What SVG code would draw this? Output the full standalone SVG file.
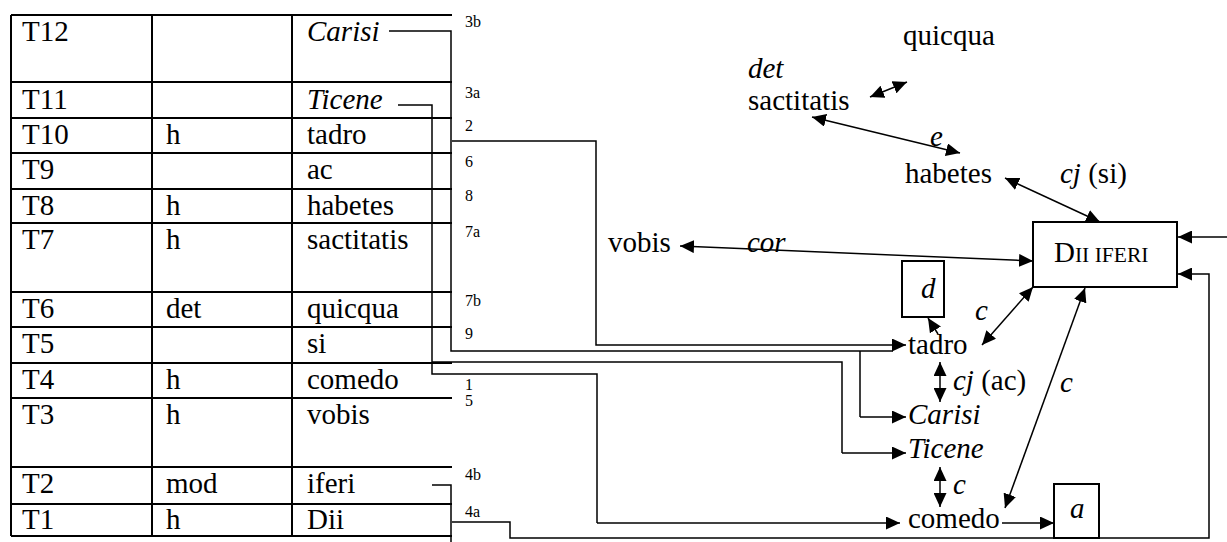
<svg xmlns="http://www.w3.org/2000/svg" width="1227" height="542" viewBox="0 0 1227 542" font-family="'Liberation Serif', 'Times New Roman', Times, 'DejaVu Serif', serif">
<defs>
<marker id="ah" markerUnits="userSpaceOnUse" markerWidth="15" markerHeight="13" refX="14" refY="6.5" orient="auto-start-reverse"><path d="M0,0 L14,6.5 L0,13 z" fill="#000"/></marker>
</defs>
<style>
text{font-family:'Liberation Serif', 'Times New Roman', Times, 'DejaVu Serif', serif;fill:#000}
.m{font-size:29px}
.i{font-size:29px;font-style:italic}
.s{font-size:16px}
.tb{stroke:#000;stroke-width:2;fill:none}
.c{stroke:#000;stroke-width:1.5;fill:none}
.a{stroke:#000;stroke-width:1.5;fill:none;marker-end:url(#ah)}
.d{stroke:#000;stroke-width:1.5;fill:none;marker-start:url(#ah);marker-end:url(#ah)}
.bx{stroke:#000;stroke-width:2;fill:#fff}
</style>
<rect width="1227" height="542" fill="#fff"/>
<g id="table">
<path class="tb" d="M11,15V536M152,15V536M292,15V536"/>
<path class="tb" d="M11,15H452M11,82H452M11,118H452M11,153H452M11,189H452M11,223H452M11,292H452M11,327H452M11,363H452M11,398H452M11,467H452M11,504H452M11,536H452"/>
<text class="m" x="22" y="41">T12</text>
<text class="m" x="22" y="109">T11</text>
<text class="m" x="22" y="144">T10</text>
<text class="m" x="22" y="179">T9</text>
<text class="m" x="22" y="215">T8</text>
<text class="m" x="22" y="249">T7</text>
<text class="m" x="22" y="318">T6</text>
<text class="m" x="22" y="353">T5</text>
<text class="m" x="22" y="389">T4</text>
<text class="m" x="22" y="424">T3</text>
<text class="m" x="22" y="493">T2</text>
<text class="m" x="22" y="529">T1</text>
<text class="m" x="166" y="144">h</text>
<text class="m" x="166" y="215">h</text>
<text class="m" x="166" y="249">h</text>
<text class="m" x="166" y="318">det</text>
<text class="m" x="166" y="389">h</text>
<text class="m" x="166" y="424">h</text>
<text class="m" x="166" y="493">mod</text>
<text class="m" x="166" y="529">h</text>
<text class="i" x="307" y="41">Carisi</text>
<text class="i" x="307" y="109">Ticene</text>
<text class="m" x="307" y="144">tadro</text>
<text class="m" x="307" y="179">ac</text>
<text class="m" x="307" y="215">habetes</text>
<text class="m" x="307" y="249">sactitatis</text>
<text class="m" x="307" y="318">quicqua</text>
<text class="m" x="307" y="353">si</text>
<text class="m" x="307" y="389">comedo</text>
<text class="m" x="307" y="424">vobis</text>
<text class="m" x="307" y="493">iferi</text>
<text class="m" x="307" y="529">Dii</text>
</g>
<g id="labels">
<text class="s" x="465" y="27">3b</text>
<text class="s" x="465" y="98">3a</text>
<text class="s" x="465" y="131">2</text>
<text class="s" x="465" y="167">6</text>
<text class="s" x="465" y="201">8</text>
<text class="s" x="465" y="237">7a</text>
<text class="s" x="465" y="306">7b</text>
<text class="s" x="465" y="339">9</text>
<text class="s" x="465" y="390">1</text>
<text class="s" x="465" y="406">5</text>
<text class="s" x="465" y="480">4b</text>
<text class="s" x="465" y="517">4a</text>
</g>
<g id="connectors">
<path class="c" d="M389,31H451V351H893M860,351V417"/>
<path class="a" d="M860,417H906"/>
<path class="a" d="M452,141H596V345H906"/>
<path class="c" d="M398,105H432V374H597V523"/>
<path class="c" d="M432,362H842V453"/>
<path class="a" d="M842,453H906"/>
<path class="a" d="M597,523H900"/>
<path class="c" d="M432,485H451V542"/>
<path class="a" d="M452,522H510V538H1209V274H1178"/>
<path class="a" d="M1227,237H1178"/>
<path class="d" d="M870,97L907,82"/>
<path class="d" d="M812,117L960,153"/>
<path class="d" d="M1005,178L1100,222"/>
<path class="d" d="M680,246L1033,261"/>
<path class="a" d="M938,334L928,318"/>
<path class="d" d="M982,345L1033,287"/>
<path class="d" d="M940,362V402"/>
<path class="d" d="M940,467V507"/>
<path class="a" d="M1002,523H1054"/>
<path class="d" d="M1005,508L1085,288"/>
</g>
<g id="n-quicqua"><text class="m" x="903" y="45">quicqua</text></g>
<g id="n-sactitatis"><text class="i" x="748" y="78">det</text><text class="m" x="748" y="110">sactitatis</text></g>
<g id="l-e"><text class="i" x="930" y="146">e</text></g>
<g id="n-habetes"><text class="m" x="905" y="183">habetes</text></g>
<g id="l-cjsi"><text class="m" x="1060" y="183"><tspan font-style="italic">cj</tspan> (si)</text></g>
<g id="n-dii"><rect class="bx" x="1033" y="222" width="144" height="65"/><text x="1054" y="262" font-size="29">D<tspan font-size="21.5">II IFERI</tspan></text></g>
<g id="n-vobis"><text class="m" x="608" y="252">vobis</text></g>
<g id="l-cor"><text class="i" x="747" y="252">cor</text></g>
<g id="n-d"><rect class="bx" x="902" y="261" width="42" height="56"/><text class="i" x="921" y="298">d</text></g>
<g id="n-tadro"><text class="m" x="908" y="354">tadro</text></g>
<g id="l-c1"><text class="i" x="975" y="320">c</text></g>
<g id="l-cjac"><text class="m" x="953" y="390"><tspan font-style="italic">cj</tspan> (ac)</text></g>
<g id="l-c2"><text class="i" x="1060" y="392">c</text></g>
<g id="n-carisi"><text class="i" x="908" y="424">Carisi</text></g>
<g id="n-ticene"><text class="i" x="908" y="458">Ticene</text></g>
<g id="l-c3"><text class="i" x="953" y="494">c</text></g>
<g id="n-comedo"><text class="m" x="908" y="528">comedo</text></g>
<g id="n-a"><rect class="bx" x="1054" y="484" width="45" height="54"/><text class="i" x="1070" y="518">a</text></g>
</svg>
